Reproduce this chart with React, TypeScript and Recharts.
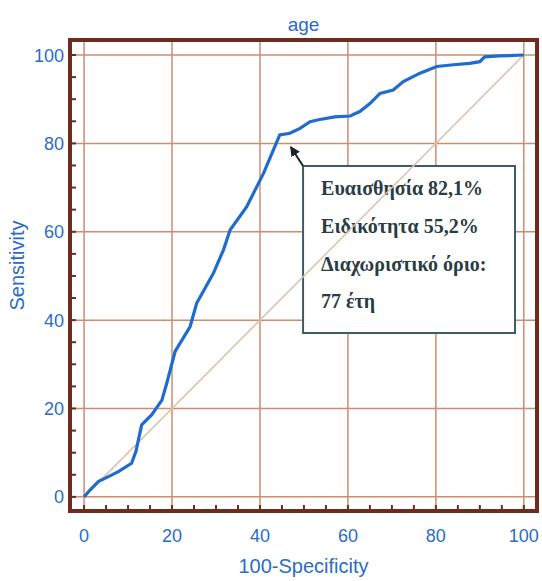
import React from "react";
import {
  LineChart,
  Line,
  XAxis,
  YAxis,
  CartesianGrid,
  ReferenceLine,
  ReferenceArea,
} from "recharts";

// ROC curve for "age"
const specificity100 = [
  0, 1.4, 3.3, 5.2, 7.8, 10.8, 11.8, 13.1, 15.4, 17.7, 18.8, 20.7, 24.1, 25.6,
  29.4, 31.7, 33.2, 37, 40.8, 44.5, 46.8, 49.1, 51.4, 53.6, 57, 60.5, 62.7, 65,
  67.3, 70.3, 72.6, 76.4, 80.2, 84, 87.7, 90, 91.1, 94.5, 100,
];
const sensitivity = [
  0, 1.6, 3.5, 4.4, 5.7, 7.6, 10.3, 16.3, 18.6, 21.9, 25.7, 32.9, 38.5, 43.8,
  50.6, 55.9, 60.4, 65.7, 73.2, 81.9, 82.3, 83.4, 84.9, 85.4, 86, 86.2, 87.2,
  89, 91.3, 92.1, 94, 95.9, 97.4, 97.8, 98.1, 98.5, 99.6, 99.8, 100,
];

const majorTicks = [0, 20, 40, 60, 80, 100];
const minorTicks = [
  0, 5, 10, 15, 20, 25, 30, 35, 40, 45, 50, 55, 60, 65, 70, 75, 80, 85, 90, 95,
  100,
];

const boxLines = [
  "Ευαισθησία 82,1%",
  "Ειδικότητα 55,2%",
  "Διαχωριστικό όριο:",
  "77 έτη",
];

const rocData = specificity100.map((x, i) => ({ x, y: sensitivity[i] }));

const X_DOMAIN: [number, number] = [-3.2, 103];
const Y_DOMAIN: [number, number] = [-3.2, 103.4];

const BLUE = "#2b6cc4";
const FRAME = "#6d2c1e";
const GRID = "#cc8e6e";
const SANS = "'Liberation Sans', Arial, sans-serif";
const SERIF = "'Liberation Serif', 'Times New Roman', serif";

const XTick = (props: any) => {
  const { x, y, payload } = props;
  if (payload.value % 20 !== 0) return <g />;
  return (
    <text
      x={x}
      y={y}
      dy="0.71em"
      textAnchor="middle"
      fill={BLUE}
      fontSize={18}
      fontFamily={SANS}
    >
      {payload.value}
    </text>
  );
};

const YTick = (props: any) => {
  const { x, y, payload } = props;
  if (payload.value % 20 !== 0) return <g />;
  return (
    <text
      x={x}
      y={y}
      dy="0.36em"
      textAnchor="end"
      fill={BLUE}
      fontSize={18}
      fontFamily={SANS}
    >
      {payload.value}
    </text>
  );
};

const BoxText = (props: any) => {
  const vb = props.viewBox;
  if (!vb) return null;
  const baselines = [29, 67, 105, 142];
  return (
    <g>
      {boxLines.map((t, i) => (
        <text
          key={t}
          x={vb.x + 18}
          y={vb.y + baselines[i]}
          fill="#2a3c44"
          fontSize={20}
          fontWeight="bold"
          fontFamily={SERIF}
        >
          {t}
        </text>
      ))}
    </g>
  );
};

export default function App() {
  return (
    <div
      style={{
        position: "absolute",
        left: 0,
        top: 0,
        width: 542,
        height: 581,
        background: "#fff",
      }}
    >
      <div
        style={{
          position: "absolute",
          left: 70,
          top: 15,
          width: 467,
          textAlign: "center",
          fontFamily: SANS,
          fontSize: 19,
          lineHeight: "19px",
          color: BLUE,
        }}
      >
        age
      </div>
      <LineChart
        width={542}
        height={581}
        data={rocData}
        margin={{ top: 40, right: 5, bottom: 0, left: 0 }}
      >
        <defs>
          <marker
            id="arrowHead"
            viewBox="0 0 10 10"
            refX="9"
            refY="5"
            markerWidth="5"
            markerHeight="5"
            orient="auto"
          >
            <path d="M0,0 L10,5 L0,10 z" fill="#1c2328" />
          </marker>
        </defs>
        <CartesianGrid
          stroke={GRID}
          strokeWidth={1.5}
          verticalValues={majorTicks}
          horizontalValues={majorTicks}
        />
        <XAxis
          dataKey="x"
          type="number"
          domain={X_DOMAIN}
          allowDataOverflow
          ticks={minorTicks}
          interval={0}
          height={70}
          axisLine={false}
          tickSize={-6}
          tickMargin={24}
          tickLine={{ stroke: FRAME, strokeWidth: 2 }}
          tick={<XTick />}
          label={{
            value: "100-Specificity",
            position: "insideBottom",
            offset: 8,
            fill: BLUE,
            fontSize: 20,
            fontFamily: SANS,
          }}
        />
        <YAxis
          type="number"
          domain={Y_DOMAIN}
          allowDataOverflow
          ticks={minorTicks}
          interval={0}
          width={70}
          axisLine={false}
          tickSize={-6}
          tickMargin={12}
          tickLine={{ stroke: FRAME, strokeWidth: 2 }}
          tick={<YTick />}
          label={{
            value: "Sensitivity",
            angle: -90,
            position: "insideLeft",
            offset: 17,
            dy: -10,
            fill: BLUE,
            fontSize: 20,
            fontFamily: SANS,
            style: { textAnchor: "middle" },
          }}
        />
        <ReferenceLine
          segment={[
            { x: 0, y: 0 },
            { x: 100, y: 100 },
          ]}
          stroke="#dcc2ac"
          strokeWidth={1.5}
        />
        <Line
          type="linear"
          dataKey="y"
          stroke="#1f6bd0"
          strokeWidth={3.2}
          dot={false}
          isAnimationActive={false}
        />
        <ReferenceArea
          x1={49.8}
          x2={98}
          y1={37.1}
          y2={74.9}
          fill="#ffffff"
          fillOpacity={1}
          stroke="#3e5c68"
          strokeWidth={2}
          label={<BoxText />}
        />
        <ReferenceLine
          segment={[
            { x: 49.8, y: 74.9 },
            { x: 47, y: 79.2 },
          ]}
          stroke="#1c2328"
          strokeWidth={2}
          markerEnd="url(#arrowHead)"
        />
        <ReferenceArea
          x1={X_DOMAIN[0]}
          x2={X_DOMAIN[1]}
          y1={Y_DOMAIN[0]}
          y2={Y_DOMAIN[1]}
          fill="none"
          stroke={FRAME}
          strokeWidth={4}
        />
      </LineChart>
    </div>
  );
}
